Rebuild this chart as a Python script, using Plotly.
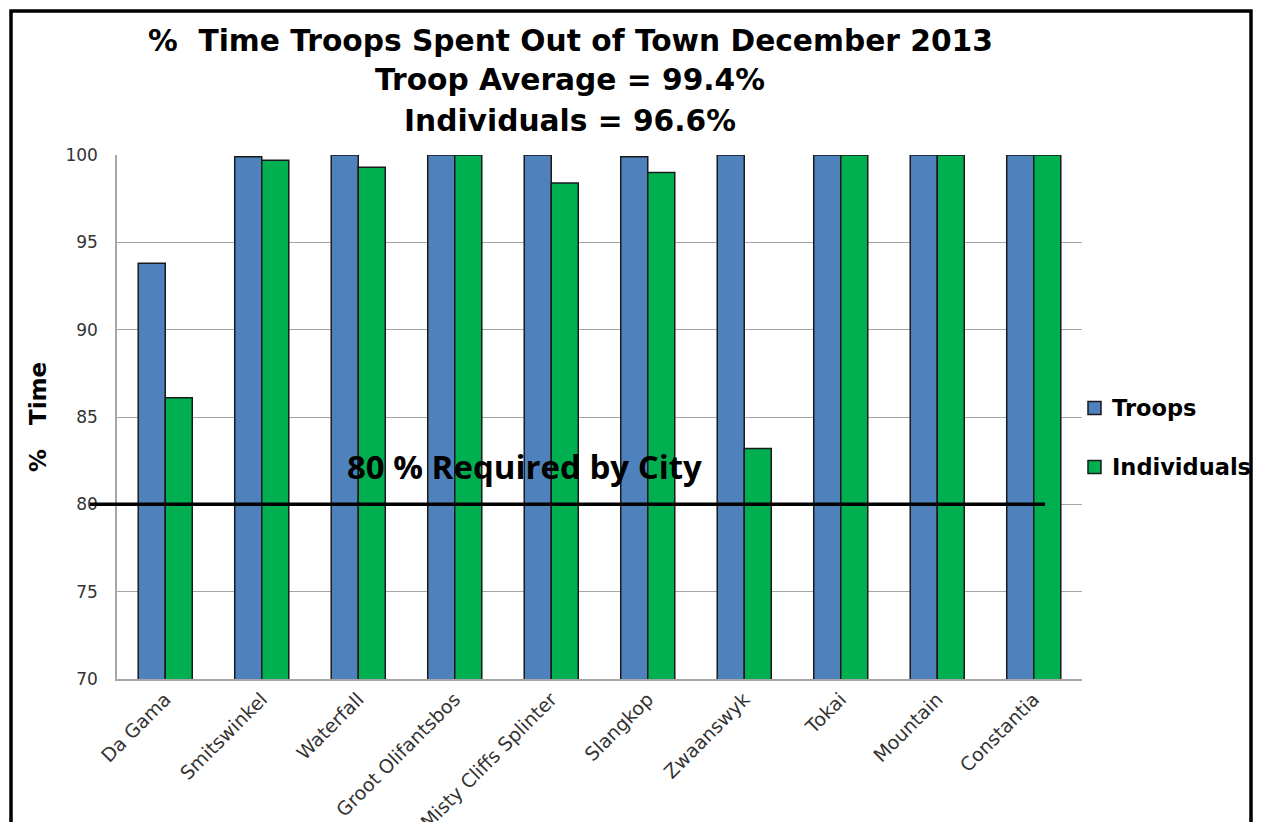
import plotly.graph_objects as go

# data
categories = ["Da Gama", "Smitswinkel", "Waterfall", "Groot Olifantsbos",
              "Misty Cliffs Splinter", "Slangkop", "Zwaanswyk", "Tokai",
              "Mountain", "Constantia"]
troops = [93.8, 99.9, 100, 100, 100, 99.9, 100, 100, 100, 100]
individuals = [86.1, 99.7, 99.3, 100, 98.4, 99.0, 83.2, 100, 100, 100]
required = 80
series_names = ["Troops", "Individuals"]
series_colors = ["#4F81BD", "#00B050"]
title_lines = ["%  Time Troops Spent Out of Town December 2013",
               "Troop Average = 99.4%",
               "Individuals = 96.6%"]

# page body adds an 8px margin on every side; keep the figure small enough
# that no scrollbar shows. positions below are screen pixels
OFF = 8
W, H = 1265 - OFF, 830 - 2 * OFF
L, T = 117 - OFF, 155 - OFF
R, B = W - (1082 - OFF), H - (679 - OFF)
pw, ph = W - L - R, H - T - B


def px_x(x):
    # screen x of the reference -> paper x
    return (x - OFF - L) / pw


def px_y(y):
    return 1 - (y - OFF - T) / ph


bold = "DejaVu Sans, sans-serif"
edge = "#1a1a1a"

fig = go.Figure()
for name, vals, col in zip(series_names, [troops, individuals], series_colors):
    fig.add_trace(go.Bar(x=categories, y=vals, name=name,
                         marker=dict(color=col, line=dict(color=edge, width=1.5))))

# required line + label
fig.add_shape(type="line", xref="paper", yref="y",
              x0=px_x(90), x1=px_x(1045), y0=required, y1=required,
              line=dict(color="black", width=3.5))
fig.add_annotation(xref="paper", yref="y", x=px_x(524), y=82.15,
                   xanchor="center", yanchor="middle",
                   text="<b>80 % Required by City</b>", showarrow=False,
                   font=dict(family="Open Sans, sans-serif", size=33, color="black"))

# title lines
for txt, yc in zip(title_lines, [40, 80, 120]):
    fig.add_annotation(xref="paper", yref="paper", x=px_x(570), y=px_y(yc),
                       xanchor="center", yanchor="middle",
                       text="<b>%s</b>" % txt, showarrow=False,
                       font=dict(family=bold, size=29.7, color="black"))

# legend drawn by hand so it does not push the right margin
for name, col, yc in zip(series_names, series_colors, [408, 467]):
    fig.add_shape(type="rect", xref="paper", yref="paper",
                  x0=px_x(1088), x1=px_x(1101), y0=px_y(yc + 6.5), y1=px_y(yc - 6.5),
                  fillcolor=col, line=dict(color=edge, width=1.5))
    fig.add_annotation(xref="paper", yref="paper", x=px_x(1110), y=px_y(yc),
                       xanchor="left", yanchor="middle", showarrow=False,
                       text="<b>%s</b>" % name,
                       font=dict(family=bold, size=22.5, color="black"))

# outer frame (right edge kept clear of the window scrollbar strip)
fig.add_shape(type="rect", xref="paper", yref="paper",
              x0=px_x(11), x1=px_x(1251), y0=px_y(845), y1=px_y(11),
              line=dict(color="black", width=3.5))

fig.update_xaxes(tickangle=-45, showline=True, linecolor="#a6a6a6", linewidth=1.5,
                 tickfont=dict(family=bold, size=19, color="#333333"),
                 ticks="", automargin=False)
fig.update_yaxes(range=[70, 100], dtick=5, showgrid=True, gridcolor="#a6a6a6",
                 gridwidth=1.2, showline=True, linecolor="#a6a6a6", linewidth=1.5,
                 tickfont=dict(family=bold, size=17, color="#333333"),
                 ticklabelstandoff=14, ticks="", automargin=False,
                 title=dict(text="<b>%   Time</b>", standoff=12,
                            font=dict(family=bold, size=23, color="black")),
                 zeroline=False)

fig.update_layout(width=W, height=H,
                  margin=dict(l=L, r=R, t=T, b=B),
                  plot_bgcolor="white", paper_bgcolor="white",
                  barmode="group", bargap=0.44, bargroupgap=0,
                  showlegend=False)

fig.write_html("out.html")
